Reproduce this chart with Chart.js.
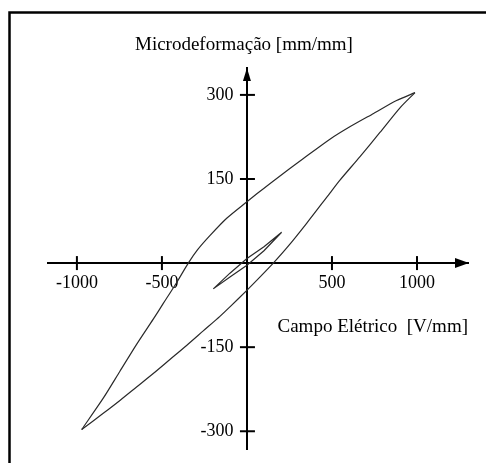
<!DOCTYPE html>
<html><head><meta charset="utf-8">
<script src="https://cdn.jsdelivr.net/npm/chart.js@4/dist/chart.umd.min.js"></script>
<style>html,body{margin:0;padding:0;background:#fff;}canvas{display:block;}</style>
</head><body>
<canvas id="c" width="486" height="463"></canvas>
<script>
// Descending branch (from +1000 V/mm back to -1000 V/mm)
const fieldDescending  = [988, 880, 745, 610, 488, 330, 175, 60, -2, -119, -218, -290, -345, -414, -492, -551, -649, -747, -845, -972];
const strainDescending = [304, 290, 267, 244, 221, 186, 151, 124, 109, 80, 49, 24, 0, -35, -72, -100, -145, -193, -241, -297];
// Ascending branch (from -1000 V/mm up to +1000 V/mm)
const fieldAscending   = [-972, -845, -747, -649, -551, -453, -355, -257, -159, -100, -2, 76, 155, 234, 351, 488, 547, 665, 782, 900, 988];
const strainAscending  = [-297, -268, -245, -221, -197, -172, -147, -121, -95, -78, -49, -25, 0, 27, 71, 125, 148, 190, 233, 277, 304];
// Small inner loop
const fieldMinorLoop   = [-198, -100, 0, 100, 204, 100, 0, -100, -198];
const strainMinorLoop  = [-46, -25, -4, 22, 55, 29, 8, -18, -46];

const xTickValues = [-1000, -500, 500, 1000];
const yTickValues = [300, 150, -150, -300];
const xAxisTitle = 'Campo Elétrico  [V/mm]';
const yAxisTitle = 'Microdeformação [mm/mm]';

const toPoints = (xs, ys) => xs.map((v, i) => ({x: v, y: ys[i]}));
const SERIF = "'Liberation Serif', 'Times New Roman', serif";
const lineStyle = {showLine: true, borderColor: '#2a2a2a', borderWidth: 1.2, pointRadius: 0, fill: false};

const decor = {
  id: 'decor',
  beforeDraw(chart) {
    const ctx = chart.ctx;
    ctx.save(); ctx.fillStyle = '#fff'; ctx.fillRect(0, 0, chart.width, chart.height); ctx.restore();
  },
  afterDraw(chart) {
    const {ctx, chartArea: a, scales: {x, y}} = chart;
    const x0 = x.getPixelForValue(0), y0 = y.getPixelForValue(0);
    ctx.save();
    ctx.strokeStyle = '#000';
    ctx.lineWidth = 2.5;
    ctx.strokeRect(9.5, 12.5, 490, 470);
    ctx.lineWidth = 2;
    x.ticks.forEach(t => {
      const px = x.getPixelForValue(t.value);
      ctx.beginPath(); ctx.moveTo(px, y0 - 7); ctx.lineTo(px, y0 + 7); ctx.stroke();
    });
    y.ticks.forEach(t => {
      const py = y.getPixelForValue(t.value);
      ctx.beginPath(); ctx.moveTo(x0 - 7, py); ctx.lineTo(x0 + 8, py); ctx.stroke();
    });
    ctx.fillStyle = '#000';
    ctx.beginPath(); ctx.moveTo(a.right + 1, y0); ctx.lineTo(a.right - 13, y0 - 5); ctx.lineTo(a.right - 13, y0 + 5); ctx.closePath(); ctx.fill();
    ctx.beginPath(); ctx.moveTo(x0, a.top); ctx.lineTo(x0 - 4, a.top + 13); ctx.lineTo(x0 + 4, a.top + 13); ctx.closePath(); ctx.fill();
    // vertical-axis title, centred above the axis arrow
    ctx.font = '19px ' + SERIF;
    ctx.textAlign = 'center';
    ctx.textBaseline = 'alphabetic';
    ctx.fillText(yAxisTitle, x0 - 3, 50);
    ctx.restore();
  }
};

new Chart(document.getElementById('c'), {
  type: 'scatter',
  data: {
    datasets: [
      Object.assign({label: 'descending', data: toPoints(fieldDescending, strainDescending), tension: 0.25}, lineStyle),
      Object.assign({label: 'ascending', data: toPoints(fieldAscending, strainAscending), tension: 0.25}, lineStyle),
      Object.assign({label: 'minor loop', data: toPoints(fieldMinorLoop, strainMinorLoop), tension: 0}, lineStyle)
    ]
  },
  options: {
    responsive: false,
    animation: false,
    devicePixelRatio: 1,
    layout: {padding: {left: 48, right: 18, top: 68, bottom: 10}},
    plugins: {
      legend: {display: false},
      tooltip: {enabled: false},
      title: {display: false}
    },
    scales: {
      x: {
        type: 'linear', min: -1170, max: 1300,
        position: {y: 0},
        afterBuildTicks: s => { s.ticks = xTickValues.map(v => ({value: v})); },
        grid: {display: false, drawTicks: false},
        border: {display: true, color: '#000', width: 2},
        ticks: {color: '#000', font: {family: SERIF, size: 18}, padding: 9, maxRotation: 0, autoSkip: false,
                callback: v => String(v)},
        title: {display: true, text: xAxisTitle, align: 'end', color: '#000',
                font: {family: SERIF, size: 19}, padding: {top: 13, bottom: 0}}
      },
      y: {
        type: 'linear', min: -332, max: 348,
        position: {x: 0},
        afterBuildTicks: s => { s.ticks = yTickValues.map(v => ({value: v})); },
        grid: {display: false, drawTicks: false},
        border: {display: true, color: '#000', width: 2},
        ticks: {color: '#000', font: {family: SERIF, size: 18}, autoSkip: false,
                callback: v => String(v) + '   '}
      }
    }
  },
  plugins: [decor]
});
</script>
</body></html>
